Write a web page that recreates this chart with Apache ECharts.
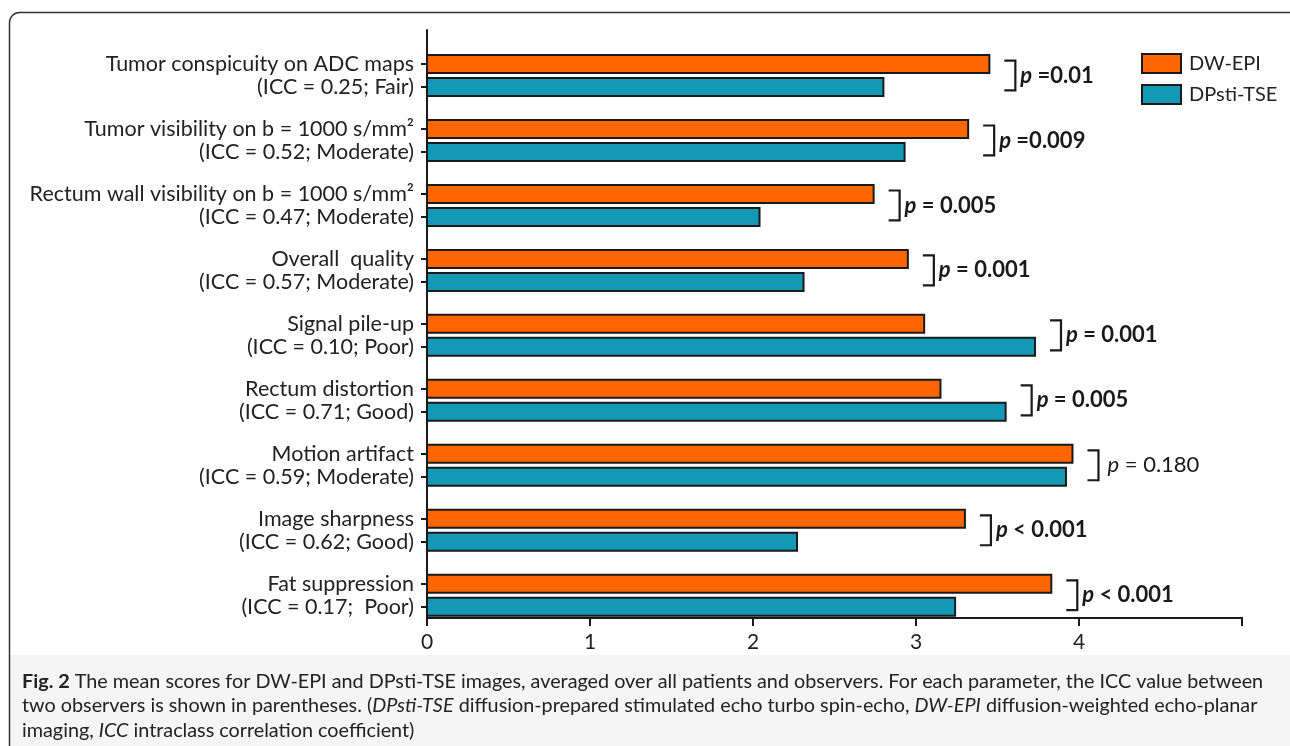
<!DOCTYPE html>
<html>
<head>
<meta charset="utf-8">
<script src="https://cdn.jsdelivr.net/npm/echarts@6/dist/echarts.min.js"></script>
<style>
  html, body { margin: 0; padding: 0; background: #fff; }
  #chart { width: 1290px; height: 746px; }
</style>
</head>
<body>
<div id="chart"></div>
<script>
// Image-quality parameters (first label line) and inter-observer agreement (second line)
const parameters = [
  'Tumor conspicuity on ADC maps',
  'Tumor visibility on b = 1000 s/mm²',
  'Rectum wall visibility on b = 1000 s/mm²',
  'Overall  quality',
  'Signal pile-up',
  'Rectum distortion',
  'Motion artifact',
  'Image sharpness',
  'Fat suppression'
];
const iccNotes = [
  '(ICC = 0.25; Fair)',
  '(ICC = 0.52; Moderate)',
  '(ICC = 0.47; Moderate)',
  '(ICC = 0.57; Moderate)',
  '(ICC = 0.10; Poor)',
  '(ICC = 0.71; Good)',
  '(ICC = 0.59; Moderate)',
  '(ICC = 0.62; Good)',
  '(ICC = 0.17;  Poor)'
];
// Mean scores per sequence
const dwEpi    = [3.45, 3.32, 2.74, 2.95, 3.05, 3.15, 3.96, 3.30, 3.83];
const dpstiTse = [2.80, 2.93, 2.04, 2.31, 3.73, 3.55, 3.92, 2.27, 3.24];
// Significance of the paired comparison
const pValues = ['=0.01', '=0.009', '= 0.005', '= 0.001', '= 0.001', '= 0.005', '= 0.180', '< 0.001', '< 0.001'];
const pSignificant = [true, true, true, true, true, true, false, true, true];
// Score axis
const scoreMin = 0, scoreMax = 5, scoreStep = 1;
const scoreTickLabels = ['0', '1', '2', '3', '4', ''];

const seriesNames = ['DW-EPI', 'DPsti-TSE'];
const seriesColors = ['#ff6600', '#1399b4'];

// Vertical placement of each pair of bars around its group position
const ROW_OFFSET = 0.177;
const BAR_THICK = 0.277;
const FONT = 'Lato';
const INK = '#1a1a1a';

const rowPositions = [];
parameters.forEach((_, g) => { rowPositions.push(g - ROW_OFFSET, g + ROW_OFFSET); });

function rowLabel(v) {
  const g = Math.round(v);
  return v < g ? parameters[g] : iccNotes[g];
}

function barSeries(name, values, offset, color) {
  return {
    type: 'custom',
    name: name,
    coordinateSystem: 'cartesian2d',
    itemStyle: { color: color, borderColor: INK, borderWidth: 2 },
    encode: { x: 0, y: 1 },
    data: values.map((v, i) => [v, i + offset]),
    renderItem: function (params, api) {
      const y = api.value(1);
      const start = api.coord([0, y]);
      const end = api.coord([api.value(0), y]);
      const h = api.size([0, BAR_THICK])[1];
      return {
        type: 'rect',
        shape: { x: start[0], y: start[1] - h / 2, width: end[0] - start[0], height: h },
        style: { fill: color, stroke: INK, lineWidth: 2 }
      };
    }
  };
}

// Bracket and p-value beside each pair
const bracketSeries = {
  type: 'custom',
  name: 'comparison',
  coordinateSystem: 'cartesian2d',
  silent: true,
  encode: { x: 0, y: 1 },
  data: dwEpi.map((v, i) => [Math.max(v, dpstiTse[i]), i]),
  renderItem: function (params, api) {
    const i = params.dataIndex;
    const p = api.coord([api.value(0), api.value(1)]);
    const half = api.size([0, 0.23])[1];
    const x0 = p[0] + 15, x1 = x0 + 11;
    const weight = pSignificant[i] ? 'bold' : 'normal';
    return {
      type: 'group',
      children: [
        {
          type: 'polyline',
          shape: { points: [[x0, p[1] - half], [x1, p[1] - half], [x1, p[1] + half], [x0, p[1] + half]] },
          style: { stroke: INK, lineWidth: 2.2, fill: null }
        },
        {
          type: 'text',
          x: x1 + (pSignificant[i] ? 5 : 9),
          y: p[1],
          style: {
            text: '{i|p}{v| ' + pValues[i] + '}',
            verticalAlign: 'middle',
            align: 'left',
            rich: {
              i: { fontStyle: 'italic', fontWeight: weight, fontSize: 22, fontFamily: FONT, fill: INK },
              v: { fontWeight: weight, fontSize: 22, fontFamily: FONT, fill: INK }
            }
          }
        }
      ]
    };
  }
};

const captionRich = {
  b: { fontWeight: 'bold', fontSize: 19.8, fontFamily: FONT, fill: '#222', lineHeight: 24.5 },
  i: { fontStyle: 'italic', fontSize: 19.8, fontFamily: FONT, fill: '#222', lineHeight: 24.5 }
};
const captionText =
  '{b|Fig. 2} The mean scores for DW-EPI and DPsti-TSE images, averaged over all patients and observers. For each parameter, the ICC value between\n' +
  'two observers is shown in parentheses. ({i|DPsti-TSE} diffusion-prepared stimulated echo turbo spin-echo, {i|DW-EPI} diffusion-weighted echo-planar\n' +
  'imaging, {i|ICC} intraclass correlation coefficient)';

const chart = echarts.init(document.getElementById('chart'), null, { renderer: 'canvas' });
chart.setOption({
  backgroundColor: '#ffffff',
  animation: false,
  textStyle: { fontFamily: FONT },
  grid: { left: 427, right: 48, top: 30, bottom: 128, containLabel: false },
  legend: {
    data: seriesNames,
    orient: 'vertical',
    left: 1136,
    top: 48,
    icon: 'rect',
    itemWidth: 39,
    itemHeight: 19,
    itemGap: 10,
    selectedMode: false,
    textStyle: { fontSize: 20, fontFamily: FONT, color: '#222', padding: [0, 0, 0, 3] }
  },
  xAxis: {
    type: 'value',
    min: scoreMin,
    max: scoreMax,
    interval: scoreStep,
    axisLine: { show: true, onZero: false, lineStyle: { color: INK, width: 2 } },
    axisTick: { show: true, length: 8, lineStyle: { color: INK, width: 2 } },
    axisLabel: {
      margin: 14,
      fontSize: 21,
      fontFamily: FONT,
      color: '#222',
      formatter: function (v) { return scoreTickLabels[Math.round((v - scoreMin) / scoreStep)]; }
    },
    splitLine: { show: false }
  },
  yAxis: {
    type: 'value',
    inverse: true,
    min: -0.7,
    max: 8.35,
    axisLine: { show: true, onZero: false, lineStyle: { color: INK, width: 2 } },
    axisTick: { show: true, length: 6, customValues: rowPositions, lineStyle: { color: INK, width: 2 } },
    axisLabel: {
      customValues: rowPositions,
      margin: 13,
      fontSize: 21.5,
      fontFamily: FONT,
      color: '#222',
      formatter: rowLabel
    },
    splitLine: { show: false }
  },
  series: [
    barSeries(seriesNames[0], dwEpi, -ROW_OFFSET, seriesColors[0]),
    barSeries(seriesNames[1], dpstiTse, ROW_OFFSET, seriesColors[1]),
    bracketSeries
  ],
  graphic: [
    { type: 'rect', z: -10, silent: true, shape: { x: 9, y: 655, width: 1300, height: 120 }, style: { fill: '#f5f5f5' } },
    { type: 'rect', z: 100, silent: true, shape: { x: 9.5, y: 12.5, width: 1300, height: 760, r: 10 }, style: { fill: null, stroke: '#333', lineWidth: 1.5 } },
    {
      type: 'text', z: 100, left: 22, top: 669,
      style: { text: captionText, fontSize: 19.8, fontFamily: FONT, fill: '#222', lineHeight: 24.5, rich: captionRich }
    }
  ]
});
</script>
</body>
</html>
